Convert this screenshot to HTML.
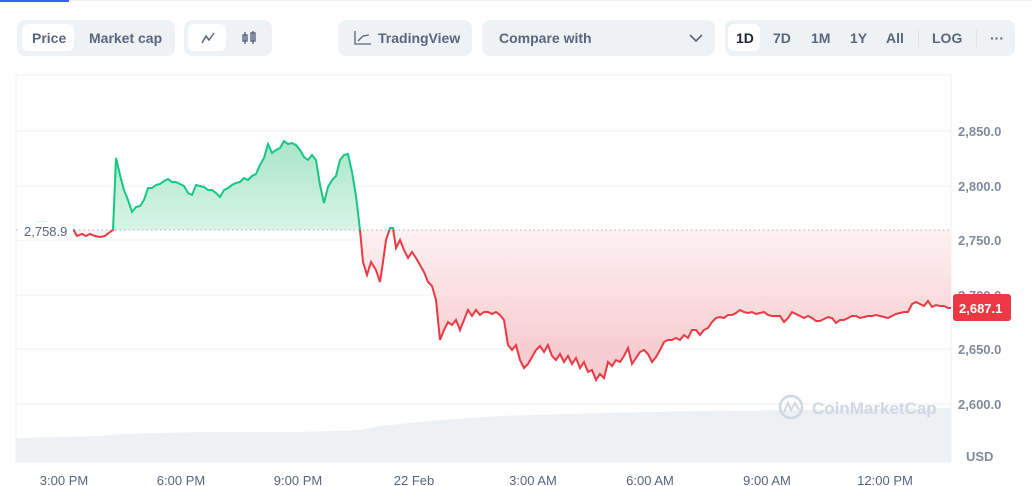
<!DOCTYPE html>
<html><head><style>
body{margin:0;width:1032px;height:486px;background:#fff;font-family:"Liberation Sans",sans-serif;position:relative;overflow:hidden;color:#58667e}
.g{position:absolute;top:20px;height:36px;background:#eff2f5;border-radius:8px}
.w{position:absolute;top:4px;height:27px;background:#fff;border-radius:6px}
.t{position:absolute;top:10px;font-size:14px;font-weight:bold;color:#58667e;white-space:nowrap}
</style></head><body>
<div style="position:absolute;left:0;top:0;width:1032px;height:1px;background:#eff2f5"></div>
<div style="position:absolute;left:0;top:0;width:69px;height:2px;background:#3861fb"></div>
<div class="g" style="left:17px;width:158px"><div class="w" style="left:5px;width:52px"></div><span class="t" style="left:15px">Price</span><span class="t" style="left:72px">Market cap</span></div>
<div class="g" style="left:184px;width:88px"><div class="w" style="left:4px;width:38px"></div>
<svg style="position:absolute;left:16px;top:11px" width="16" height="14"><polyline points="2,12 6,5 9,9 14,2" fill="none" stroke="#58667e" stroke-width="1.5"/></svg>
<svg style="position:absolute;left:57px;top:10px" width="18" height="16"><rect x="2" y="5" width="4" height="6" fill="none" stroke="#58667e" stroke-width="1.4"/><line x1="4" y1="2" x2="4" y2="14" stroke="#58667e" stroke-width="1.4"/><rect x="10" y="3" width="4" height="8" fill="none" stroke="#58667e" stroke-width="1.4"/><line x1="12" y1="1" x2="12" y2="14" stroke="#58667e" stroke-width="1.4"/></svg></div>
<div class="g" style="left:338px;width:134px"><svg style="position:absolute;left:16px;top:11px" width="18" height="14"><polyline points="1,0 1,13 17,13" fill="none" stroke="#58667e" stroke-width="1.3"/><polyline points="4,10 9,5 15,4" fill="none" stroke="#58667e" stroke-width="1.3"/></svg><span class="t" style="left:40px">TradingView</span></div>
<div class="g" style="left:482px;width:233px"><span class="t" style="left:17px">Compare with</span><svg style="position:absolute;left:207px;top:14px" width="14" height="9"><polyline points="1,1 7,7 13,1" fill="none" stroke="#58667e" stroke-width="1.6"/></svg></div>
<div class="g" style="left:725px;width:290px"><div class="w" style="left:3px;width:32px"></div>
<span class="t" style="left:11px;color:#222531">1D</span><span class="t" style="left:48px">7D</span><span class="t" style="left:86px">1M</span><span class="t" style="left:125px">1Y</span><span class="t" style="left:161px">All</span>
<div style="position:absolute;left:193px;top:10px;width:1px;height:17px;background:#dfe3e8"></div>
<span class="t" style="left:207px">LOG</span>
<div style="position:absolute;left:251px;top:10px;width:1px;height:17px;background:#dfe3e8"></div>
<span class="t" style="left:265px">···</span></div>

<svg style="position:absolute;left:0;top:0" width="1032" height="486">
<defs>
<linearGradient id="gg" x1="0" y1="140" x2="0" y2="230" gradientUnits="userSpaceOnUse"><stop offset="0" stop-color="#a8e6c8"/><stop offset="1" stop-color="#d8f4e6"/></linearGradient>
<linearGradient id="rg" x1="0" y1="230" x2="0" y2="350" gradientUnits="userSpaceOnUse"><stop offset="0" stop-color="#fdf1f2"/><stop offset="1" stop-color="#f7cdd1"/></linearGradient>
<clipPath id="up"><rect x="0" y="0" width="952" height="230"/></clipPath>
<clipPath id="dn"><rect x="0" y="230" width="952" height="300"/></clipPath>
<polygon id="fp" points="73,230 73,229 77,236 82,234 86,236 90,234 95,236 100,237 105,236 110,232 113,230 116,158 120,175 124,190 128,200 132,212 136,207 140,206 144,200 148,188 152,188 156,185 160,184 164,181 168,179 172,182 176,182 180,184 184,186 188,193 192,195 196,185 200,186 204,187 208,190 212,190 216,193 220,197 224,190 228,188 232,185 236,183 240,182 244,178 248,180 252,176 256,174 260,165 264,158 268,144 272,153 276,150 280,148 284,141 288,144 292,143 296,145 300,150 304,157 308,160 312,155 316,160 320,185 324,203 328,187 332,180 336,176 340,160 344,155 348,154 352,172 356,196 360,230 363,262 367,275 371,262 376,270 380,282 384,255 386,240 390,228 393,228 396,248 400,240 404,250 408,258 412,252 416,258 420,265 424,272 428,282 432,286 436,300 440,340 444,330 448,322 452,325 456,320 460,330 464,320 468,310 472,316 476,310 480,315 484,312 488,312 492,314 496,312 500,315 504,320 508,345 512,350 516,345 520,360 524,368 528,364 532,357 536,350 540,346 544,352 548,345 552,356 556,360 560,354 564,362 568,356 572,364 576,358 580,368 584,362 588,372 592,370 596,380 600,374 604,378 608,362 612,366 616,360 620,362 624,356 628,348 632,364 636,358 640,352 644,350 648,354 652,362 656,357 660,350 664,342 668,340 672,340 676,338 680,340 684,335 688,338 692,330 696,330 700,335 704,330 708,328 712,322 716,318 720,317 724,318 728,315 732,315 736,313 740,310 744,312 748,313 752,312 756,314 760,313 764,312 768,315 772,316 776,316 780,316 784,322 788,318 792,312 796,314 800,316 804,318 808,316 812,318 816,321 820,321 824,319 828,317 832,318 836,323 840,320 844,320 848,318 852,316 856,316 860,318 864,317 868,316 872,316 876,315 880,316 884,317 888,318 892,316 896,314 900,313 904,312 908,312 912,304 916,302 920,304 924,306 928,301 932,307 936,305 940,306 944,306 948,308 951,308 951,230"/>
<polyline id="lp" points="73,229 77,236 82,234 86,236 90,234 95,236 100,237 105,236 110,232 113,230 116,158 120,175 124,190 128,200 132,212 136,207 140,206 144,200 148,188 152,188 156,185 160,184 164,181 168,179 172,182 176,182 180,184 184,186 188,193 192,195 196,185 200,186 204,187 208,190 212,190 216,193 220,197 224,190 228,188 232,185 236,183 240,182 244,178 248,180 252,176 256,174 260,165 264,158 268,144 272,153 276,150 280,148 284,141 288,144 292,143 296,145 300,150 304,157 308,160 312,155 316,160 320,185 324,203 328,187 332,180 336,176 340,160 344,155 348,154 352,172 356,196 360,230 363,262 367,275 371,262 376,270 380,282 384,255 386,240 390,228 393,228 396,248 400,240 404,250 408,258 412,252 416,258 420,265 424,272 428,282 432,286 436,300 440,340 444,330 448,322 452,325 456,320 460,330 464,320 468,310 472,316 476,310 480,315 484,312 488,312 492,314 496,312 500,315 504,320 508,345 512,350 516,345 520,360 524,368 528,364 532,357 536,350 540,346 544,352 548,345 552,356 556,360 560,354 564,362 568,356 572,364 576,358 580,368 584,362 588,372 592,370 596,380 600,374 604,378 608,362 612,366 616,360 620,362 624,356 628,348 632,364 636,358 640,352 644,350 648,354 652,362 656,357 660,350 664,342 668,340 672,340 676,338 680,340 684,335 688,338 692,330 696,330 700,335 704,330 708,328 712,322 716,318 720,317 724,318 728,315 732,315 736,313 740,310 744,312 748,313 752,312 756,314 760,313 764,312 768,315 772,316 776,316 780,316 784,322 788,318 792,312 796,314 800,316 804,318 808,316 812,318 816,321 820,321 824,319 828,317 832,318 836,323 840,320 844,320 848,318 852,316 856,316 860,318 864,317 868,316 872,316 876,315 880,316 884,317 888,318 892,316 896,314 900,313 904,312 908,312 912,304 916,302 920,304 924,306 928,301 932,307 936,305 940,306 944,306 948,308 951,308"/>
</defs>
<line x1="16" y1="75" x2="951" y2="75" stroke="#eff2f5"/>
<line x1="16" y1="75" x2="16" y2="462" stroke="#eff2f5"/>
<line x1="951" y1="75" x2="951" y2="462" stroke="#eff2f5"/>
<g stroke="#eff2f5"><line x1="16" y1="131" x2="951" y2="131"/><line x1="16" y1="186" x2="951" y2="186"/><line x1="16" y1="240" x2="951" y2="240"/><line x1="16" y1="295" x2="951" y2="295"/><line x1="16" y1="349" x2="951" y2="349"/><line x1="16" y1="404" x2="951" y2="404"/><line x1="16" y1="462" x2="951" y2="462"/></g>
<polygon points="16,438 100,436 120,434 200,432 300,432 360,430 380,426 440,420 500,416 600,413 700,411 800,410 951,408 951,462 16,462" fill="#eef1f4"/>
<use href="#fp" fill="url(#gg)" clip-path="url(#up)"/>
<use href="#fp" fill="url(#rg)" clip-path="url(#dn)"/>
<line x1="16" y1="230" x2="951" y2="230" stroke="#a6b0c3" stroke-dasharray="1.5,3"/>
<polyline points="20,228 30,226 38,222 46,222 52,226" fill="none" stroke="#cdeedd" stroke-width="1.5"/>
<use href="#lp" fill="none" stroke="#16c784" stroke-width="2" clip-path="url(#up)"/>
<use href="#lp" fill="none" stroke="#ea3943" stroke-width="2" clip-path="url(#dn)"/>
<rect x="19" y="222" width="54" height="18" fill="#fff"/>
<text x="24" y="236" font-size="13" fill="#58667e">2,758.9</text>
<g font-size="13" fill="#808a9d" font-weight="bold"><text x="958" y="136">2,850.0</text><text x="958" y="191">2,800.0</text><text x="958" y="245">2,750.0</text><text x="958" y="300">2,700.0</text><text x="958" y="354">2,650.0</text><text x="958" y="409">2,600.0</text><text x="966" y="461">USD</text></g>
<rect x="953" y="294" width="58" height="27" rx="3" fill="#ea3943"/>
<text x="959" y="313" font-size="13" font-weight="bold" fill="#fff">2,687.1</text>
<g font-size="13" fill="#58667e" text-anchor="middle"><text x="64" y="485">3:00 PM</text><text x="181" y="485">6:00 PM</text><text x="298" y="485">9:00 PM</text><text x="414" y="485">22 Feb</text><text x="533" y="485">3:00 AM</text><text x="650" y="485">6:00 AM</text><text x="767" y="485">9:00 AM</text><text x="885" y="485">12:00 PM</text></g>
<circle cx="791" cy="407" r="11" fill="none" stroke="#cfd6e4" stroke-width="2.5"/>
<polyline points="784,412 788,403 791,410 795,403 799,410" fill="none" stroke="#cfd6e4" stroke-width="2"/>
<text x="812" y="414" font-size="17" font-weight="bold" fill="#cfd6e4">CoinMarketCap</text>
</svg>
</body></html>
